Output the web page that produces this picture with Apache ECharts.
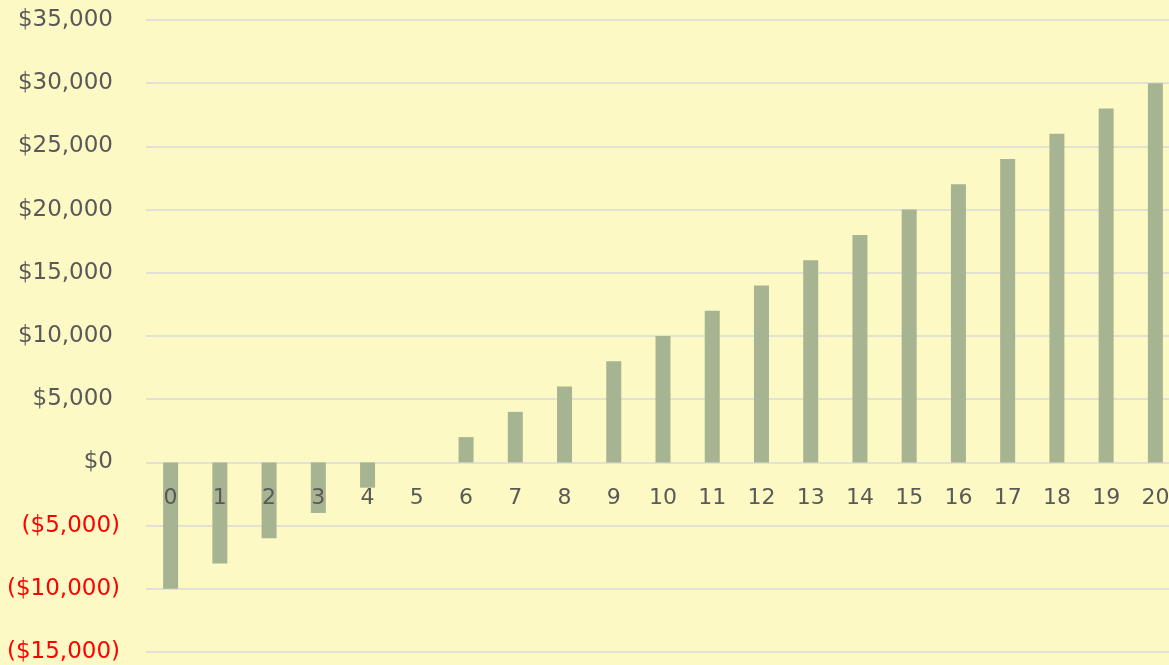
<!DOCTYPE html>
<html>
<head>
<meta charset="utf-8">
<script src="https://cdn.jsdelivr.net/npm/echarts@6/dist/echarts.min.js"></script>
<style>
html,body{margin:0;padding:0;background:#fdf9c4;}
#chart{width:1169px;height:665px;}
</style>
</head>
<body>
<div id="chart"></div>
<script>
const categories = ['0','1','2','3','4','5','6','7','8','9','10','11','12','13','14','15','16','17','18','19','20'];
const values = [-10000,-8000,-6000,-4000,-2000,0,2000,4000,6000,8000,10000,12000,14000,16000,18000,20000,22000,24000,26000,28000,30000];
const yMin = -15000, yMax = 35000, yStep = 5000;

function fmt(v){
  const s = '$' + Math.abs(v).toLocaleString('en-US');
  return v < 0 ? '{neg|(' + s + ')}' : '{pos|' + s + '}{sp|}';
}

const W = 1169, H = 665;
const gTop = 20, gBottom = 13;
const plotH = H - gTop - gBottom;
const zeroOffset = -((0 - yMin) / (yMax - yMin)) * plotH;

const chart = echarts.init(document.getElementById('chart'));
chart.setOption({
  backgroundColor: '#fdf9c4',
  animation: false,
  grid: {left: 146, right: -11, top: gTop, bottom: gBottom, containLabel: false, outerBoundsMode: 'none'},
  xAxis: {
    type: 'category',
    data: categories,
    z: 5,
    position: 'bottom',
    offset: zeroOffset,
    axisLine: {show: false, onZero: false},
    axisTick: {show: false},
    axisLabel: {show: true, color: '#595959', fontFamily: 'DejaVu Sans', fontSize: 22, margin: 25}
  },
  yAxis: {
    type: 'value',
    min: yMin, max: yMax, interval: yStep,
    axisLine: {show: false},
    axisTick: {show: false},
    splitLine: {lineStyle: {color: '#d9d9d9', width: 1.5}},
    axisLabel: {
      margin: 26,
      formatter: fmt,
      rich: {
        pos: {fontFamily: 'DejaVu Sans', fontSize: 23, color: '#595959'},
        neg: {fontFamily: 'DejaVu Sans', fontSize: 23, color: '#ff0000'},
        sp: {width: 7, fontSize: 23}
      }
    }
  },
  series: [{
    type: 'bar',
    data: values,
    barWidth: 15,
    itemStyle: {color: '#a6b491'}
  }]
});
</script>
</body>
</html>
